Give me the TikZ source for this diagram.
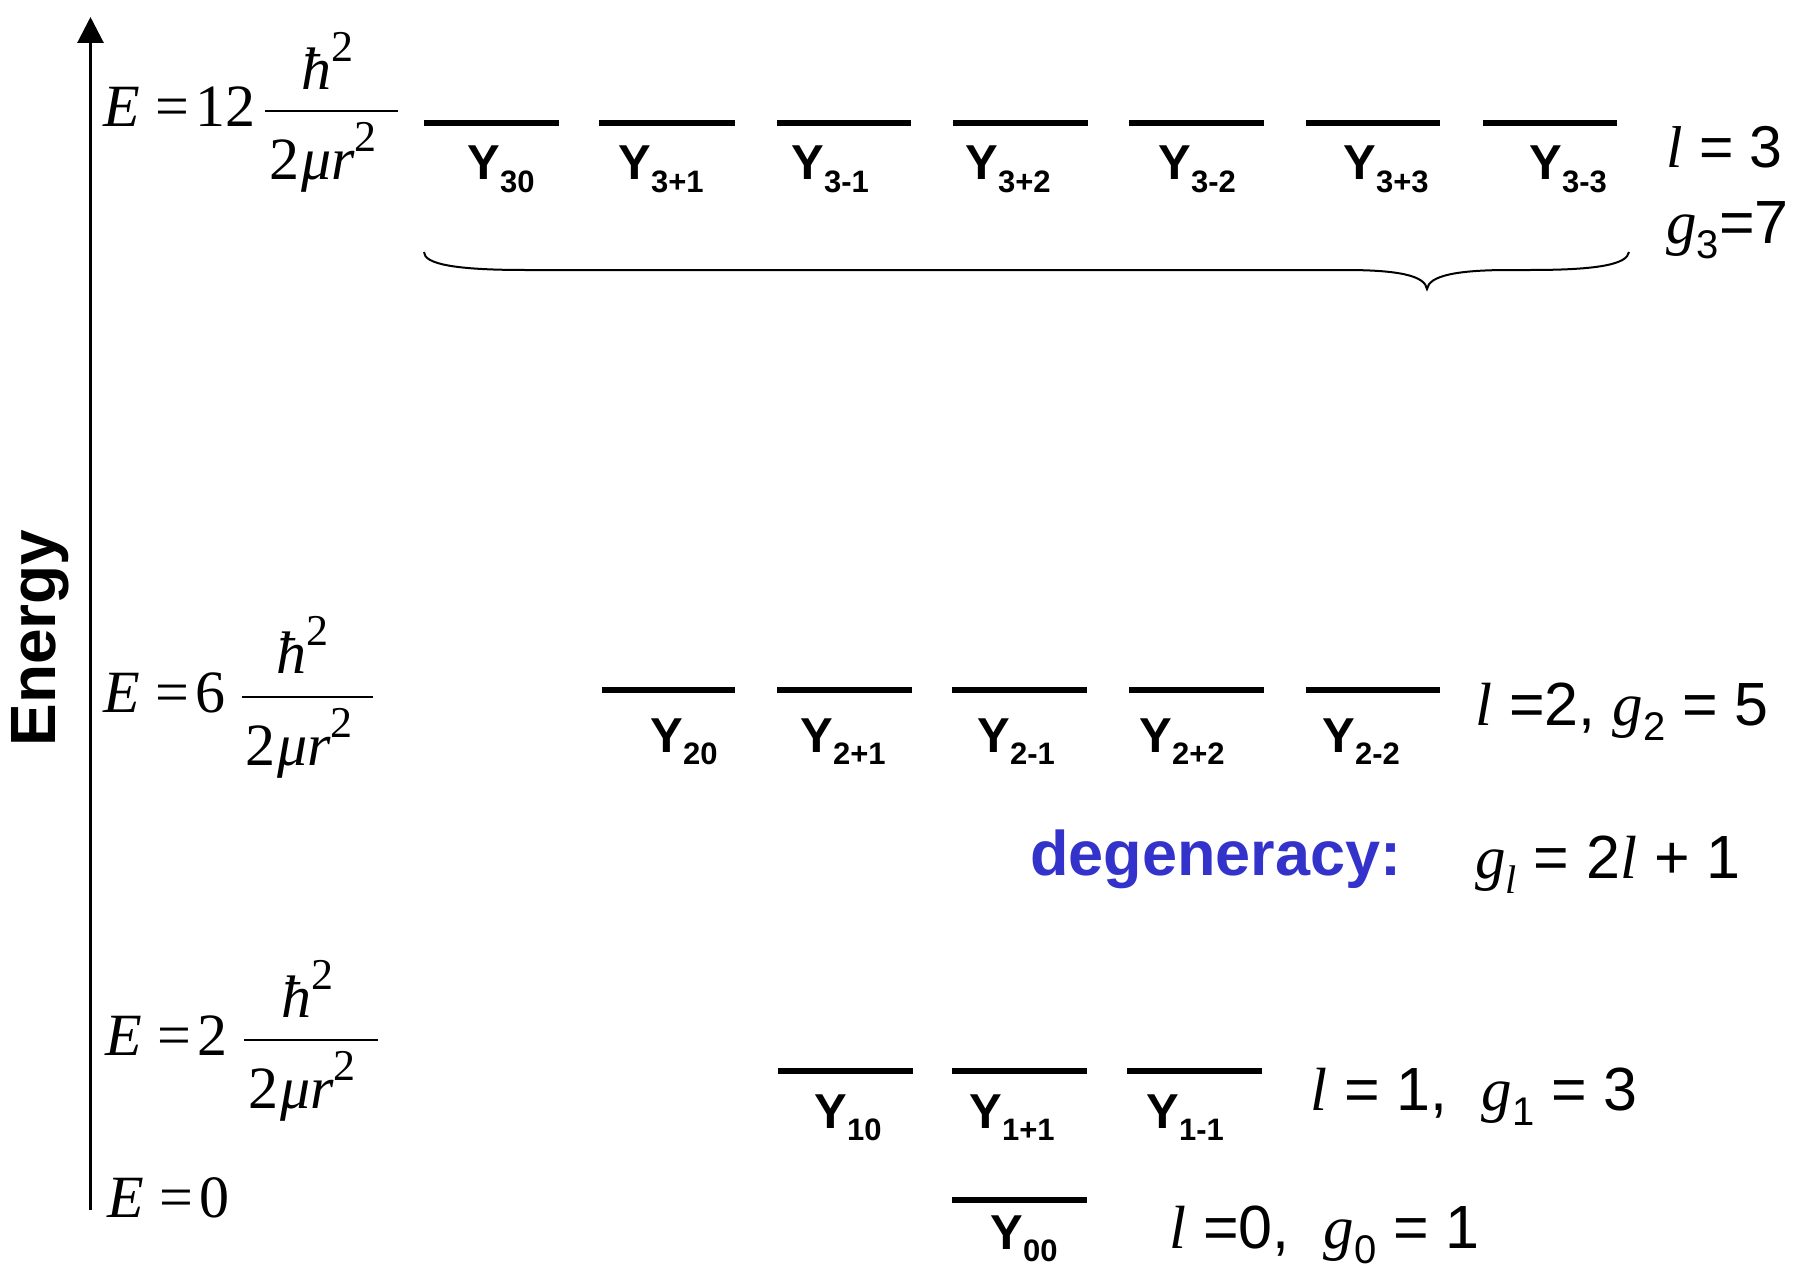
\documentclass[tikz,border=0pt]{standalone}
\usepackage{fontspec}
\setmainfont{Liberation Sans}
\newfontfamily\tms{Liberation Serif}
\usetikzlibrary{arrows.meta}
\definecolor{degblue}{RGB}{51,51,204}
\newcommand\Yl[1]{Y\raisebox{-6pt}{\fontsize{15.5pt}{15.5pt}\selectfont\bfseries #1}}
\newcommand\ti[1]{{\tms\itshape #1}}
\newcommand\sqr{\raisebox{14pt}{\fontsize{22pt}{22pt}\selectfont\tms 2}}
\newcommand\sbA[1]{\raisebox{-7.5pt}{\fontsize{20pt}{20pt}\selectfont #1}}
\tikzset{
  lvl/.style={line width=3pt},
  ylab/.style={anchor=base west, inner sep=0pt, font=\fontsize{24.5pt}{26pt}\selectfont\bfseries},
  fml/.style={anchor=base west, inner sep=0pt, font=\fontsize{30pt}{32pt}\selectfont\tms},
  rlab/.style={anchor=base west, inner sep=0pt, font=\fontsize{30.5pt}{32pt}\selectfont},
  fbar/.style={line width=0.9pt},
}
\begin{document}
\begin{tikzpicture}[x=0.5pt,y=-0.5pt]
\useasboundingbox (0,0) rectangle (1806,1268);
% axis
\coordinate (ab) at (90.5,1210);
\coordinate (at) at (90.5,17);
\draw[line width=1.5pt, -{Triangle[width=13pt,length=13pt]}] (ab) -- (at);
\node[rotate=90, anchor=base, inner sep=0pt, font=\fontsize{32pt}{34pt}\selectfont\bfseries] (en) at (55,638) {Energy};
% formulas
\node[fml] (e12) at (103,127) {\ti{E}\hspace{7.5pt}=\hspace{3.5pt}12};
\node[fml] (e12n) at (301,90) {\ti{ħ}\sqr};
\node[fml] (e12d) at (269,180) {2\hspace{1pt}\ti{μr}\sqr};
\draw[fbar] (265,111) -- (398,111);
\node[fml] (e6) at (103,712) {\ti{E}\hspace{7.5pt}=\hspace{3.5pt}6};
\node[fml] (e6n) at (276,673) {\ti{ħ}\sqr};
\node[fml] (e6d) at (245,765) {2\hspace{1pt}\ti{μr}\sqr};
\draw[fbar] (242,697) -- (373,697);
\node[fml] (e2) at (105,1055) {\ti{E}\hspace{7.5pt}=\hspace{3.5pt}2};
\node[fml] (e2n) at (281,1017) {\ti{ħ}\sqr};
\node[fml] (e2d) at (248,1108) {2\hspace{1pt}\ti{μr}\sqr};
\draw[fbar] (244,1040) -- (378,1040);
\node[fml] (e0) at (107,1217) {\ti{E}\hspace{7.5pt}=\hspace{3.5pt}0};
% level lines
\foreach \a/\b in {424/559,599/735,777/911,953/1088,1129/1264,1306/1440,1483/1617}
  \draw[lvl] (\a,123) -- (\b,123);
\foreach \a/\b in {602/735,777/912,952/1087,1129/1264,1306/1440}
  \draw[lvl] (\a,690) -- (\b,690);
\foreach \a/\b in {778/913,952/1087,1127/1262}
  \draw[lvl] (\a,1071) -- (\b,1071);
\draw[lvl] (952,1200) -- (1087,1200);
% labels level 3
\node[ylab] (y30) at (467,180) {\Yl{30}};
\node[ylab] (y3p1) at (618,180) {\Yl{3+1}};
\node[ylab] (y3m1) at (791,180) {\Yl{3-1}};
\node[ylab] (y3p2) at (965,180) {\Yl{3+2}};
\node[ylab] (y3m2) at (1158,180) {\Yl{3-2}};
\node[ylab] (y3p3) at (1343,180) {\Yl{3+3}};
\node[ylab] (y3m3) at (1529,180) {\Yl{3-3}};
% level 2
\node[ylab] (y20) at (650,752) {\Yl{20}};
\node[ylab] (y2p1) at (800,752) {\Yl{2+1}};
\node[ylab] (y2m1) at (977,752) {\Yl{2-1}};
\node[ylab] (y2p2) at (1139,752) {\Yl{2+2}};
\node[ylab] (y2m2) at (1322,752) {\Yl{2-2}};
% level 1
\node[ylab] (y10) at (814,1128) {\Yl{10}};
\node[ylab] (y1p1) at (969,1128) {\Yl{1+1}};
\node[ylab] (y1m1) at (1146,1128) {\Yl{1-1}};
% level 0
\node[ylab] (y00) at (990,1249) {\Yl{00}};
% brace
\draw[line width=1pt] (424,252) .. controls (424,264) and (455,270) .. (525,270) -- (1345,270)
  .. controls (1400,270) and (1425,276) .. (1427,289)
  .. controls (1429,276) and (1455,270) .. (1510,270) -- (1530,270)
  .. controls (1600,270) and (1627,264) .. (1629,252);
% right labels
\node[rlab, font=\fontsize{29.5pt}{31pt}\selectfont] (l3) at (1666,168) {\ti{l} = 3};
\node[rlab] (g3) at (1666,243) {\ti{g}\sbA{3}=7};
\node[rlab] (l2) at (1475,725) {\ti{l} =2, \ti{g}\sbA{2} = 5};
\node[anchor=base west, inner sep=0pt, font=\fontsize{31.5pt}{33pt}\selectfont\bfseries, text=degblue] (deg) at (1030,875) {degeneracy:};
\node[rlab] (gl) at (1475,878) {\ti{g}\sbA{\ti{l}} = 2\ti{l} + 1};
\node[rlab] (l1) at (1310,1110) {\ti{l} = 1,\ \ \ti{g}\sbA{1} = 3};
\node[rlab] (l0) at (1169,1248) {\ti{l} =0,\ \ \ti{g}\sbA{0} = 1};
\end{tikzpicture}
\end{document}
